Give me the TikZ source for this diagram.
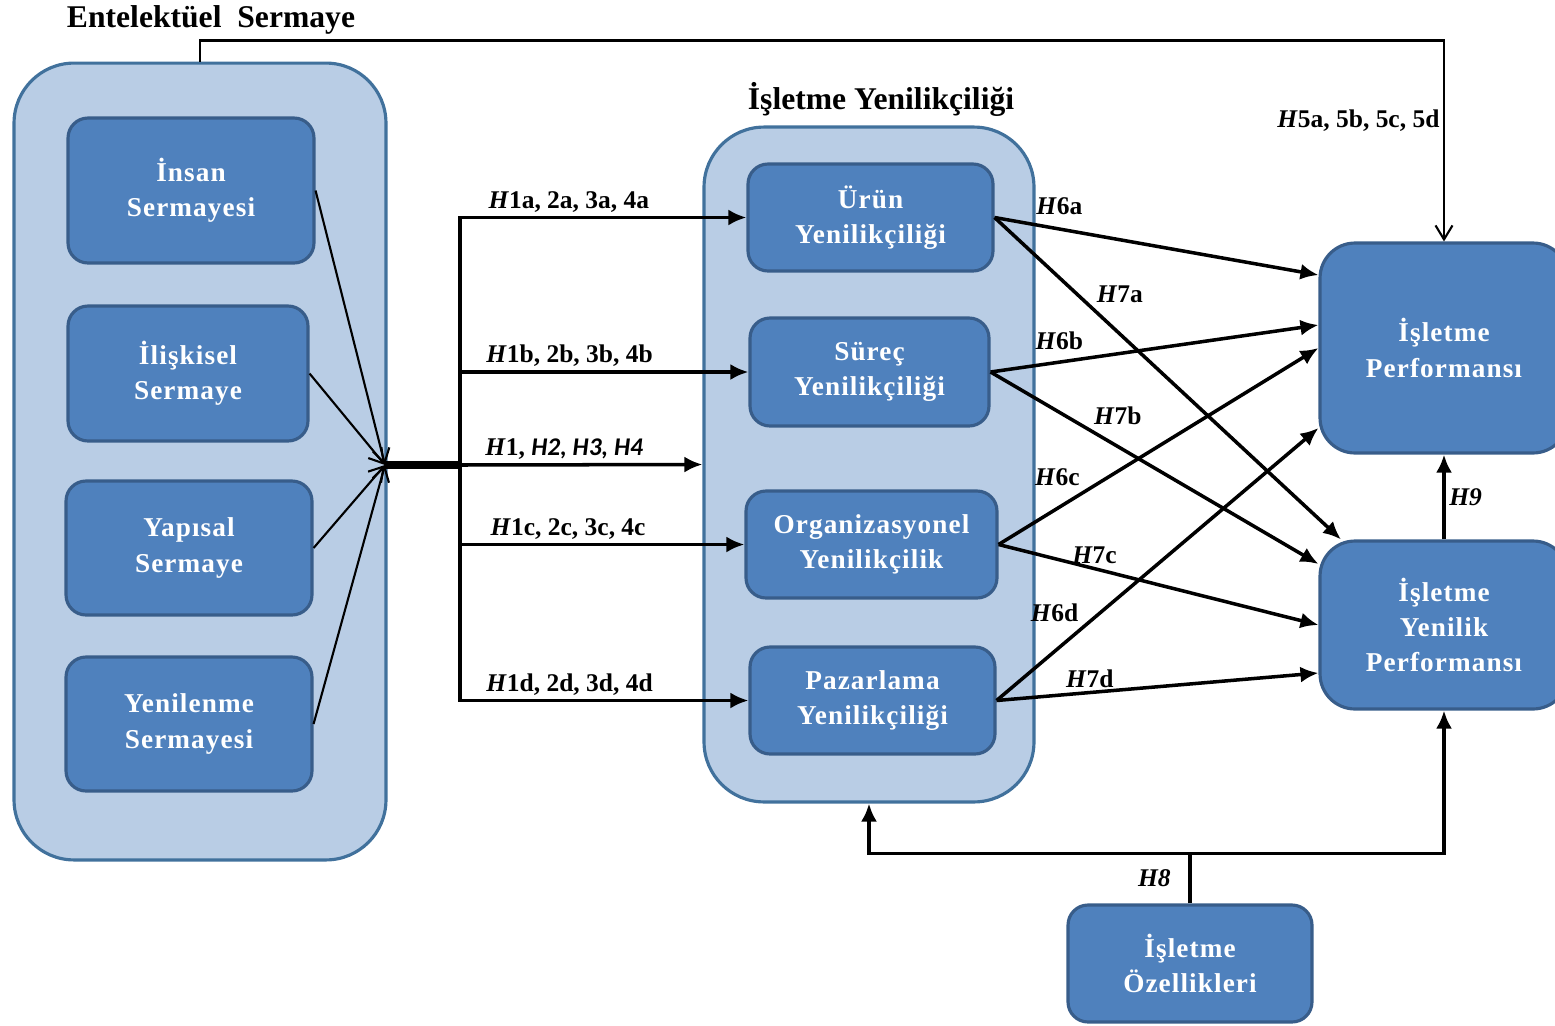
\documentclass[tikz,border=0pt]{standalone}
\usepackage{fontspec}
\setmainfont{Liberation Serif}
\newfontfamily\boxfont{Liberation Serif}[LetterSpace=4.0]
\newfontfamily\calfont{Carlito}
\usepackage{tikz}
\usetikzlibrary{arrows.meta,positioning,calc}
\definecolor{panelfill}{RGB}{185,205,229}
\definecolor{paneldraw}{RGB}{65,113,156}
\definecolor{boxfill}{RGB}{79,129,189}
\definecolor{boxdraw}{RGB}{56,93,138}
\newcommand{\hyp}[1]{\textit{H}#1}

\begin{document}
\begin{tikzpicture}[x=0.02cm, y=-0.02cm,
      panel/.style={draw=paneldraw, line width=1.8pt, fill=panelfill,
        rounded corners=1.2cm},
      factor/.style={draw=boxdraw, line width=1.8pt, fill=boxfill,
        rounded corners=0.4cm, text=white, align=center,
        font=\boxfont\bfseries\fontsize{15.5}{20}\selectfont},
      outcome/.style={factor, rounded corners=0.7cm},
      heading/.style={font=\bfseries\fontsize{18}{21}\selectfont},
      hyp/.style={font=\bfseries\fontsize{14.5}{17}\selectfont, inner sep=2pt},
      link/.style={-{Latex[length=3.6mm,width=3.2mm]}, line width=2pt},
      feed/.style={-{Straight Barb[length=2.8mm,width=3.4mm]}, line width=1.2pt},
    ]
    \useasboundingbox (0,0) rectangle (1555,1025);

    % Entelektuel sermaye
    \node[heading] (estitle) at (211,20) {Entelektüel~~Sermaye};
    \node[panel, minimum width=7.44cm, minimum height=15.94cm] (escont) at (200,461.5) {};
    \node[factor, minimum width=4.92cm, minimum height=2.9cm] (insan) at (191,190.5) {İnsan\\Sermayesi};
    \node[factor, minimum width=4.8cm, minimum height=2.7cm] (iliskisel) at (188,373.5) {İlişkisel\\Sermaye};
    \node[factor, minimum width=4.92cm, minimum height=2.68cm] (yapisal) at (189,548) {Yapısal\\Sermaye};
    \node[factor, minimum width=4.92cm, minimum height=2.68cm] (yenilenme) at (189,724) {Yenilenme\\Sermayesi};

    % Isletme yenilikciligi
    \node[heading] (iytitle) at (881,99) {İşletme Yenilikçiliği};
    \node[panel, minimum width=6.6cm, minimum height=13.5cm] (iycont) at (869,464.5) {};
    \node[factor, minimum width=4.9cm, minimum height=2.14cm] (urun) at (870.5,217.5) {Ürün\\Yenilikçiliği};
    \node[factor, minimum width=4.78cm, minimum height=2.16cm] (surec) at (869.5,372) {Süreç\\Yenilikçiliği};
    \node[factor, minimum width=5.02cm, minimum height=2.14cm] (org) at (871.5,544.5) {Organizasyonel\\Yenilikçilik};
    \node[factor, minimum width=4.9cm, minimum height=2.14cm] (paz) at (872.5,700.5) {Pazarlama\\Yenilikçiliği};

    % Performans
    \node[outcome, minimum width=4.96cm, minimum height=4.2cm] (perf) at (1444,348) {İşletme\\Performansı};
    \node[outcome, minimum width=4.96cm, minimum height=3.36cm] (yperf) at (1444,625) {İşletme\\Yenilik\\Performansı};
    \node[factor, minimum width=4.88cm, minimum height=2.34cm] (ozel) at (1190,963.5) {İşletme\\Özellikleri};

    % H1--H4
    \coordinate (hub) at (385,465);
    \coordinate (split) at (460,465);
    \foreach \f in {insan,iliskisel,yapisal,yenilenme}
      \draw[feed] (\f.east) -- (hub);
    \draw[line width=4pt] (hub) -- (split);
    \draw[link] (split) |- node[hyp, pos=0.69, above] {\hyp{1}a, 2a, 3a, 4a} (urun.west);
    \draw[link] (split) |- node[hyp, pos=0.69, above] {\hyp{1}b, 2b, 3b, 4b} (surec.west);
    \draw[link] (split) -- node[hyp, pos=0.43, above] {\hyp{1}, {\calfont\itshape H2, H3, H4}} (iycont.west);
    \draw[link] (split) |- node[hyp, pos=0.69, above] {\hyp{1}c, 2c, 3c, 4c} (org.west);
    \draw[link] (split) |- node[hyp, pos=0.69, above] {\hyp{1}d, 2d, 3d, 4d} (paz.west);

    % H5
    \draw[feed] (escont.north) -- ([yshift=0.42cm]escont.north) -| node[hyp, pos=0.7, left] {\hyp{5}a, 5b, 5c, 5d} (perf.north);

    % H6, H7
    \draw[link] (urun.east) -- node[hyp, pos=0.2, above=5pt] {\hyp{6}a} ([yshift=1.46cm]perf.west);
    \draw[link] (urun.east) -- node[hyp, pos=0.28, above right] {\hyp{7}a} ([xshift=0.45cm]yperf.north west);
    \draw[link] (surec.east) -- node[hyp, pos=0.21, above=4pt] {\hyp{6}b} ([yshift=0.46cm]perf.west);
    \draw[link] (surec.east) -- node[hyp, pos=0.3, above right] {\hyp{7}b} ([yshift=1.22cm]yperf.west);
    \draw[link] (org.east) -- node[hyp, pos=0.27, above left] {\hyp{6}c} (perf.west);
    \draw[link] (org.east) -- node[hyp, pos=0.3, above] {\hyp{7}c} (yperf.west);
    \draw[link] (paz.east) -- node[hyp, pos=0.27, above left] {\hyp{6}d} ([yshift=-1.6cm]perf.west);
    \draw[link] (paz.east) -- node[hyp, pos=0.29, above] {\hyp{7}d} ([yshift=-0.96cm]yperf.west);

    % H8, H9
    \coordinate (h8j) at ([yshift=1cm]ozel.north);
    \draw[line width=2pt] (ozel.north) -- node[hyp, left=8pt] {\textit{H8}} (h8j);
    \draw[link] (h8j) -| (iycont.south);
    \draw[link] (h8j) -| (yperf.south);
    \draw[link] (yperf.north) -- node[hyp, right] {\textit{H9}} (perf.south);
  \end{tikzpicture}
\end{document}
